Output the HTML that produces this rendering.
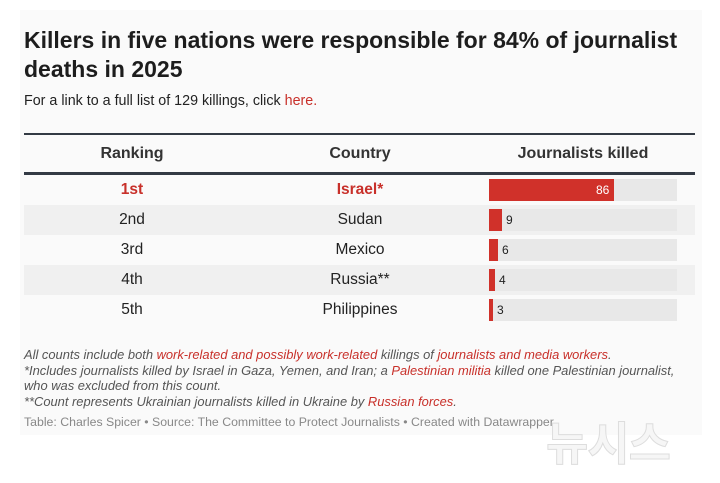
<!DOCTYPE html>
<html><head><meta charset="utf-8"><style>
*{margin:0;padding:0;box-sizing:border-box}
body{width:720px;height:483px;background:#fff;font-family:"Liberation Sans",sans-serif;position:relative;overflow:hidden;color:#222}
.card{position:absolute;left:20px;top:10px;width:682px;height:425px;background:#fafafa}
.t{position:absolute;left:24px;top:26px;font-size:23px;font-weight:bold;line-height:29px;color:#1d1d1d;width:690px}
.s{position:absolute;left:24px;top:93px;font-size:14.3px;color:#222}
.r{color:#c8302a}
.rule{position:absolute;left:24px;width:671px;background:#333a44}
.h{position:absolute;top:145px;font-size:16px;font-weight:bold;color:#333;transform:translateX(-50%)}
.row{position:absolute;left:24px;width:671px;height:30px}
.c{position:absolute;font-size:15.5px;transform:translate(-50%,-50%);top:50%;white-space:nowrap}
.trk{position:absolute;left:465px;top:4px;width:188px;height:22px;background:#e8e8e8}
.bar{position:absolute;left:0;top:0;height:22px;background:#d0312a}
.v{position:absolute;top:4px;font-size:12px}
.n{position:absolute;left:24px;font-size:12.9px;font-style:italic;color:#555;line-height:15.5px;white-space:nowrap}
.wm{position:absolute;left:546px;top:408px;font-family:"Noto Sans CJK KR",sans-serif;font-size:46px;font-weight:bold;color:rgba(245,245,245,0.9);letter-spacing:-1px;-webkit-text-stroke:1px #ddd}
</style></head><body>
<div class="card"></div>
<div class="t">Killers in five nations were responsible for 84% of journalist deaths in 2025</div>
<div class="s">For a link to a full list of 129 killings, click <span class="r">here.</span></div>
<div class="rule" style="top:133px;height:2px"></div>
<div class="h" style="left:132px">Ranking</div>
<div class="h" style="left:360px">Country</div>
<div class="h" style="left:583px">Journalists killed</div>
<div class="rule" style="top:172px;height:3px"></div>

<div class="row" style="top:175px;background:#fafafa"><div class="c r" style="left:108px;font-weight:bold">1st</div><div class="c r" style="left:336px;font-weight:bold">Israel*</div><div class="trk"><div class="bar" style="width:125px"></div><div class="v" style="left:107px;color:#fff">86</div></div></div>
<div class="row" style="top:205px;background:#f0f0f0"><div class="c" style="left:108px">2nd</div><div class="c" style="left:336px">Sudan</div><div class="trk"><div class="bar" style="width:13px"></div><div class="v" style="left:17px">9</div></div></div>
<div class="row" style="top:235px;background:#fafafa"><div class="c" style="left:108px">3rd</div><div class="c" style="left:336px">Mexico</div><div class="trk"><div class="bar" style="width:9px"></div><div class="v" style="left:13px">6</div></div></div>
<div class="row" style="top:265px;background:#f0f0f0"><div class="c" style="left:108px">4th</div><div class="c" style="left:336px">Russia**</div><div class="trk"><div class="bar" style="width:6px"></div><div class="v" style="left:10px">4</div></div></div>
<div class="row" style="top:295px;background:#fafafa"><div class="c" style="left:108px">5th</div><div class="c" style="left:336px">Philippines</div><div class="trk"><div class="bar" style="width:4px"></div><div class="v" style="left:8px">3</div></div></div>

<div class="n" style="top:347px">All counts include both <span class="r">work-related and possibly work-related</span> killings of <span class="r">journalists and media workers</span>.<br>*Includes journalists killed by Israel in Gaza, Yemen, and Iran; a <span class="r">Palestinian militia</span> killed one Palestinian journalist,<br>who was excluded from this count.<br>**Count represents Ukrainian journalists killed in Ukraine by <span class="r">Russian forces</span>.</div>
<div class="n" style="top:415px;font-style:normal;color:#888;font-size:12.3px">Table: Charles Spicer • Source: The Committee to Protect Journalists • Created with Datawrapper</div>
<div class="wm">뉴시스</div>
</body></html>
